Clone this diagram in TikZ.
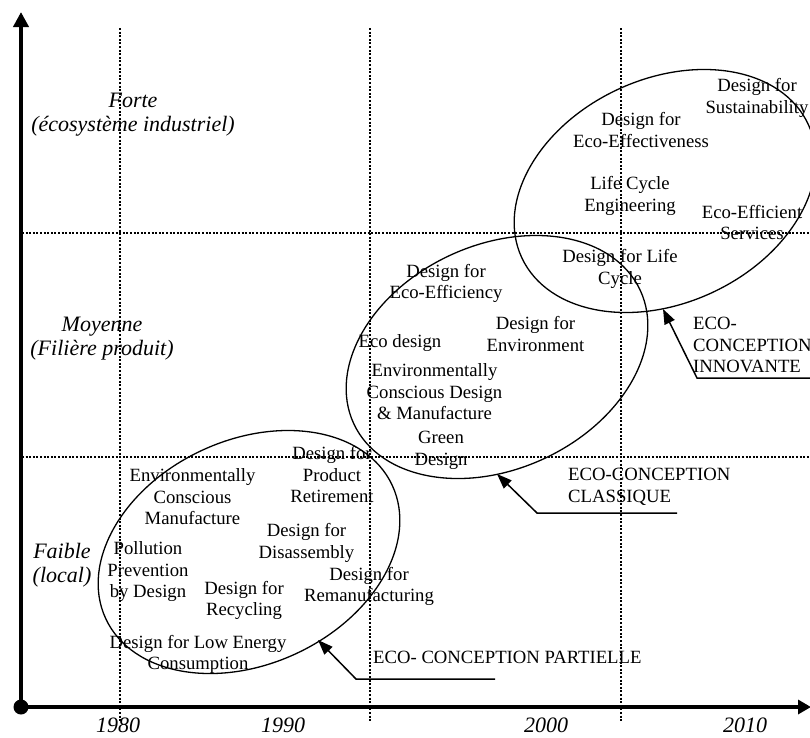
\documentclass[tikz,border=0pt]{standalone}
\usepackage{fontspec}
\setmainfont{Liberation Serif}
\usetikzlibrary{shapes.geometric,arrows.meta}
\begin{document}
\begin{tikzpicture}[x=1pt,y=-1pt,
  lbl/.style={font=\fontsize{18.7}{21.5}\selectfont, align=center, inner sep=0pt},
  lvl/.style={font=\fontsize{22}{24}\selectfont\itshape, align=center, inner sep=0pt},
  grid/.style={line width=2pt, dash pattern=on 2pt off 1.6pt, black},
  axisline/.style={line width=4.5pt},
  zone/.style={ellipse, draw, line width=1.3pt, minimum width=316pt, minimum height=224pt, inner sep=0pt, rotate=25},
  callout/.style={line width=1.5pt, -{Triangle[length=15pt,width=11pt]}},
  ctext/.style={font=\fontsize{18.7}{21.5}\selectfont, align=left, inner sep=0pt, anchor=west}
]
\clip (0,0) rectangle (810,737);
\fill[white] (0,0) rectangle (810,737);

% grid lines
\coordinate (g1t) at (120,28);  \coordinate (g1b) at (120,722);
\coordinate (g2t) at (370,28);  \coordinate (g2b) at (370,722);
\coordinate (g3t) at (621,28);  \coordinate (g3b) at (621,722);
\coordinate (h1l) at (22,233);  \coordinate (h1r) at (812,233);
\coordinate (h2l) at (22,457);  \coordinate (h2r) at (812,457);
\draw[grid] (g1t) -- (g1b);
\draw[grid] (g2t) -- (g2b);
\draw[grid] (g3t) -- (g3b);
\draw[grid] (h1l) -- (h1r);
\draw[grid] (h2l) -- (h2r);

% axes
\coordinate (origin) at (21,707);
\coordinate (ytop) at (21,12);
\coordinate (xend) at (811,707);
\draw[axisline, -{Triangle[length=15pt,width=15pt]}] (origin) -- (ytop);
\draw[axisline, -{Triangle[length=13pt,width=14pt]}] (origin) -- (xend);
\fill (origin) circle[radius=7.5pt];

% zones
\node[zone] (zPart) at (249,552) {};
\node[zone] (zClass) at (497,357) {};
\node[zone] (zInno) at (665,191) {};

% level labels
\node[lvl] (lForte) at (133,115) {Forte\\(écosystème industriel)};
\node[lvl] (lMoy) at (102,339) {Moyenne\\(Filière produit)};
\node[lvl] (lFaible) at (62,565) {Faible\\(local)};

% years
\node[lvl] (y1980) at (118,725) {1980};
\node[lvl] (y1990) at (283,725) {1990};
\node[lvl] (y2000) at (546,725) {2000};
\node[lvl] (y2010) at (745,725) {2010};

% bottom group
\node[lbl] (ecm) at (192.5,497) {Environmentally\\Conscious\\Manufacture};
\node[lbl] (dpr) at (332,474.5) {Design for\\Product\\Retirement};
\node[lbl] (dda) at (306.5,543) {Design for\\Disassembly};
\node[lbl] (ppd) at (148,572) {Pollution\\Prevention\\by Design};
\node[lbl] (dre) at (244,600.5) {Design for\\Recycling};
\node[lbl] (drm) at (369,586.5) {Design for\\Remanufacturing};
\node[lbl] (dle) at (198,654.5) {Design for Low Energy\\Consumption};

% middle group
\node[lbl] (dee) at (446,283.5) {Design for\\Eco-Efficiency};
\node[lbl] (den) at (535.5,334) {Design for\\Environment};
\node[lbl] (eco) at (400,343) {Eco design};
\node[lbl] (ecd) at (434.5,392) {Environmentally\\Conscious Design\\\& Manufacture};
\node[lbl] (grd) at (441,450.5) {Green\\Design};

% top group
\node[lbl] (dsu) at (757,98) {Design for\\Sustainability};
\node[lbl] (def) at (641,130) {Design for\\Eco-Effectiveness};
\node[lbl] (lce) at (630,196) {Life Cycle\\Engineering};
\node[lbl] (ees) at (752,222.5) {Eco-Efficient\\Services};
\node[lbl] (dlc) at (620,269) {Design for Life\\Cycle};

% callouts
\node[ctext] (cPart) at (373,657) {ECO- CONCEPTION PARTIELLE};
\node[ctext] (cClass) at (568,487) {ECO-CONCEPTION\\CLASSIQUE};
\node[ctext] (cInno) at (693,345) {ECO-\\CONCEPTION\\INNOVANTE};

\coordinate (pEnd) at (495,679);  \coordinate (pBend) at (356,679);  \coordinate (pTip) at (318,640);
\coordinate (kEnd) at (677,513);  \coordinate (kBend) at (537,513);  \coordinate (kTip) at (497,474);
\coordinate (iEnd) at (812,378);  \coordinate (iBend) at (697,378);  \coordinate (iTip) at (663,309);
\draw[callout] (pEnd) -- (pBend) -- (pTip);
\draw[callout] (kEnd) -- (kBend) -- (kTip);
\draw[callout] (iEnd) -- (iBend) -- (iTip);
\end{tikzpicture}
\end{document}
